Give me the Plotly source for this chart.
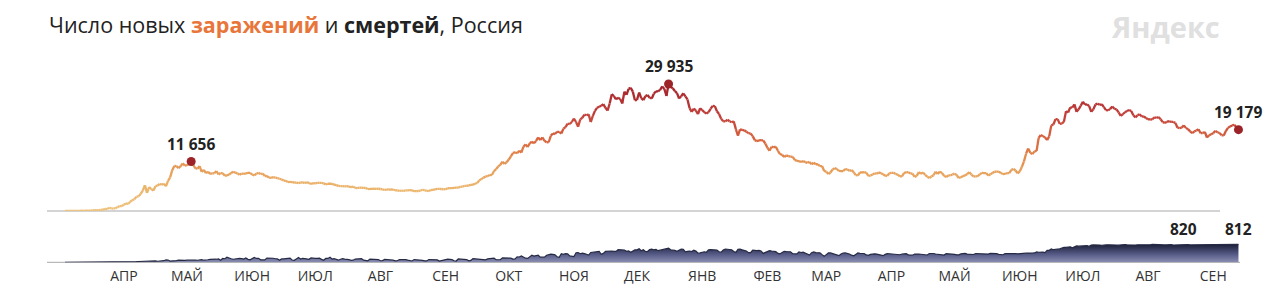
import pandas as pd
import plotly.graph_objects as go
from plotly.colors import sample_colorscale

# ---------------- DATA (daily, Russia) ----------------
# each block: (first date, daily values)
cases_blocks = [
    ("2020-03-12", [6, 11, 14, 4, 30, 21, 33, 52, 54, 53, 61, 71, 57, 163, 182, 196, 228, 270, 302, 501]),
    ("2020-04-01", [440, 771, 601, 582, 658, 954, 1154, 1175, 1459, 1786, 1667, 2186, 2558, 2774, 3388, 3448, 4070, 4785, 6060, 4268,
                    5642, 5236, 4774, 5849, 5966, 6361, 6198, 6411, 5841, 7099]),
    ("2020-05-01", [7933, 9623, 10633, 10581, 10102, 10559, 11231, 10699, 10817, 11012, 11656, 10899, 10028, 9974, 10598, 9200,
                    9709, 8926, 9263, 8764, 8849, 8894, 9434, 8599, 8946, 8915, 8338, 8371, 8572, 8952, 9268]),
    ("2020-06-01", [9035, 8863, 8536, 8831, 8726, 8855, 8984, 8985, 8595, 8404, 8779, 8987, 8706, 8835, 8246, 8248, 7843, 7790,
                    7972, 7889, 7728, 7600, 7425, 7176, 7113, 6800, 6852, 6791, 6719, 6693]),
    ("2020-07-01", [6556, 6760, 6718, 6632, 6736, 6611, 6368, 6562, 6509, 6635, 6611, 6615, 6537, 6248, 6422, 6428, 6406, 6234,
                    6109, 5940, 5842, 5862, 5811, 5871, 5765, 5635, 5723, 5475, 5395, 5509, 5482]),
    ("2020-08-01", [5462, 5427, 5159, 5204, 5204, 5241, 5212, 5241, 5189, 5118, 4945, 5102, 5057, 5065, 5061, 4892, 4839, 4748,
                    4790, 4767, 4838, 4870, 4921, 4852, 4696, 4676, 4711, 4829, 4980, 4897, 4729]),
    ("2020-09-01", [4729, 4952, 4995, 5110, 5195, 5205, 5185, 5099, 5172, 5363, 5405, 5406, 5449, 5509, 5529, 5670, 5762, 5905,
                    5944, 6065, 6148, 6215, 6431, 6595, 7212, 7523, 7867, 8135, 8232, 8481]),
    ("2020-10-01", [8481, 9412, 9859, 10499, 10888, 11615, 11115, 11493, 12126, 12846, 13634, 13868, 13592, 14231, 13754, 15150,
                    15700, 15099, 15982, 16319, 15971, 16521, 17340, 16710, 17347, 16550, 16202, 16202, 17717, 18283, 18140]),
    ("2020-11-01", [18665, 18648, 18257, 19404, 19768, 20582, 20498, 20977, 21798, 20977, 19851, 21608, 21983, 22702, 22572, 22778,
                    20977, 22410, 23610, 24318, 24581, 24822, 25173, 24326, 23675, 25345, 27543, 27100, 26338, 26683]),
    ("2020-12-01", [26402, 25345, 28145, 27403, 28782, 29039, 28142, 26097, 26190, 27927, 26585, 26137, 27080, 27328, 26689, 26509,
                    27656, 28214, 28209, 28552, 29350, 28776, 27100, 29935, 29258, 28948, 28284, 27787, 26513, 27039, 27747]),
    ("2021-01-01", [27029, 26301, 24246, 23351, 24150, 23652, 22851, 24217, 23771, 23309, 22934, 23315, 24092, 24763, 24715, 23510,
                    22857, 21734, 21152, 21127, 21513, 21152, 20921, 21127, 19290, 17741, 19238, 19138, 19032, 18670, 18359]),
    ("2021-02-01", [18241, 17648, 16714, 16474, 16643, 16688, 16627, 15916, 14928, 14207, 15166, 15010, 15150, 14185, 13433, 13233,
                    12742, 13092, 12953, 12828, 12742, 12048, 11823, 11749, 11534, 11749, 11534, 11359]),
    ("2021-03-01", [11571, 11024, 11385, 11024, 11022, 10565, 10595, 9445, 9270, 8711, 9079, 9803, 10103, 9908, 9437, 9393, 9393,
                    9889, 9803, 9445, 9632, 9167, 8457, 8369, 9073, 9128, 9088, 9073, 8277, 8351, 8569]),
    ("2021-04-01", [8885, 8792, 9109, 8885, 8646, 8328, 8294, 8910, 9007, 8997, 8702, 8589, 8173, 8162, 8995, 9112, 9166, 8814,
                    8835, 8053, 8271, 9150, 8780, 9056, 8535, 8114, 7771, 8116, 8425, 9270]),
    ("2021-05-01", [8697, 9284, 8951, 8329, 7975, 8419, 8387, 8618, 8792, 8489, 7770, 7974, 8217, 8380, 8702, 9159, 8599, 8128,
                    8144, 8217, 8632, 8981, 8941, 8951, 8373, 8632, 8947, 9252, 9270, 9289, 8951]),
    ("2021-06-01", [8715, 8735, 8951, 8947, 9694, 9908, 9557, 8885, 9323, 10407, 11699, 13510, 14723, 13721, 13397, 14057, 14185,
                    17262, 17906, 17611, 17378, 16715, 17594, 20182, 20393, 21665, 21650, 20538, 20616, 21042]),
    ("2021-07-01", [23543, 23218, 24439, 24353, 25142, 23378, 23962, 24818, 25766, 25082, 25140, 24702, 23378, 23962, 25116, 25293,
                    25018, 25152, 24471, 23770, 23704, 24072, 24634, 24105, 23947, 23239, 22420, 22804, 23270, 23564, 23807]),
    ("2021-08-01", [23564, 22589, 22064, 22589, 22804, 22277, 22277, 21932, 21624, 21571, 21571, 22097, 21932, 22144, 21624, 20958,
                    20765, 21058, 21155, 21000, 20992, 20765, 19630, 19509, 19630, 20183, 19594, 19286, 18780, 18325, 18780]),
    ("2021-09-01", [18985, 19286, 18341, 18380, 18645, 17325, 17837, 18065, 18341, 18891, 18554, 18380, 17837, 17813, 18841, 19594,
                    19905, 20174, 20329, 19706, 19179]),
]

deaths_blocks = [
    ("2020-03-12", [0, 0, 0, 0, 0, 0, 0, 1, 0, 0, 0, 0, 1, 2, 1, 1, 0, 4, 2, 2]),
    ("2020-04-01", [7, 2, 8, 9, 2, 11, 10, 13, 18, 13, 12, 24, 22, 18, 28, 36, 41, 42, 48, 51, 57, 44, 49, 60, 47, 47, 58, 72,
                    108, 101]),
    ("2020-05-01", [57, 57, 58, 76, 95, 86, 76, 88, 98, 104, 94, 107, 96, 93, 113, 119, 94, 91, 115, 135, 127, 150, 139, 153, 92,
                    174, 161, 232, 181, 162, 138]),
    ("2020-06-01", [162, 182, 178, 169, 144, 197, 134, 112, 171, 216, 174, 181, 113, 119, 109, 193, 194, 181, 183, 161, 153, 95,
                    154, 153, 176, 176, 188, 104, 92, 154]),
    ("2020-07-01", [216, 147, 176, 168, 135, 134, 198, 173, 174, 174, 188, 132, 95, 175, 175, 232, 146, 161, 128, 95, 138, 165,
                    147, 150, 124, 85, 95, 147, 161, 154, 161]),
    ("2020-08-01", [95, 70, 70, 147, 144, 129, 114, 124, 70, 77, 130, 129, 110, 114, 98, 68, 70, 117, 121, 123, 121, 95, 68, 60,
                    122, 119, 117, 112, 86, 65, 61]),
    ("2020-09-01", [123, 119, 117, 112, 110, 56, 73, 122, 129, 145, 132, 119, 70, 57, 150, 150, 124, 150, 124, 68, 87, 169, 160,
                    147, 148, 107, 104, 108, 154, 169]),
    ("2020-10-01", [169, 186, 117, 113, 116, 198, 201, 191, 202, 186, 148, 154, 244, 239, 286, 232, 184, 176, 229, 317, 283, 303,
                    320, 229, 219, 229, 320, 346, 366, 355, 334]),
    ("2020-11-01", [252, 228, 389, 355, 389, 378, 286, 286, 256, 432, 439, 387, 411, 395, 361, 323, 442, 456, 463, 467, 492, 361,
                    401, 491, 507, 524, 510, 496, 491, 569]),
    ("2020-12-01", [562, 589, 554, 496, 510, 456, 495, 561, 560, 613, 524, 573, 491, 485, 572, 591, 567, 585, 525, 547, 537, 558,
                    599, 635, 567, 562, 536, 500, 562, 599, 586]),
    ("2021-01-01", [470, 490, 508, 483, 547, 506, 412, 425, 463, 476, 453, 559, 570, 574, 575, 556, 473, 455, 553, 597, 588, 570,
                    568, 485, 447, 590, 595, 562, 534, 510, 434]),
    ("2021-02-01", [439, 553, 534, 523, 539, 511, 401, 439, 492, 528, 509, 497, 479, 400, 377, 443, 495, 483, 486, 477, 390, 370,
                    378, 464, 442, 459, 412, 386]),
    ("2021-03-01", [324, 435, 468, 435, 434, 427, 347, 274, 347, 422, 423, 395, 387, 338, 302, 374, 419, 421, 405, 376, 322, 292,
                    355, 420, 403, 390, 396, 331, 311, 357, 385]),
    ("2021-04-01", [382, 372, 357, 327, 299, 357, 393, 386, 376, 359, 330, 342, 341, 376, 383, 390, 339, 326, 322, 372, 385, 369,
                    363, 346, 325, 330, 396, 401, 398, 375]),
    ("2021-05-01", [367, 361, 339, 326, 391, 388, 378, 371, 359, 337, 334, 380, 398, 401, 371, 364, 328, 352, 397, 392, 391, 378,
                    358, 350, 370, 399, 401, 402, 390, 360, 343]),
    ("2021-06-01", [340, 387, 393, 392, 392, 386, 388, 384, 398, 408, 409, 413, 416, 399, 410, 422, 466, 453, 466, 461, 440, 536,
                    541, 599, 568, 601, 599, 611, 652, 669]),
    ("2021-07-01", [672, 679, 697, 654, 679, 737, 726, 737, 752, 752, 749, 725, 780, 786, 791, 796, 778, 769, 764, 784, 791, 796,
                    799, 792, 779, 772, 787, 794, 799, 790, 781]),
    ("2021-08-01", [771, 765, 780, 792, 790, 791, 787, 781, 769, 791, 808, 799, 790, 789, 784, 780, 786, 789, 798, 799, 780, 784,
                    785, 790, 793, 820, 815, 799, 786, 786, 795]),
    ("2021-09-01", [798, 797, 796, 795, 792, 786, 788, 796, 799, 797, 791, 784, 778, 788, 797, 799, 799, 788, 779, 788, 812]),
]

month_labels = ["АПР", "МАЙ", "ИЮН", "ИЮЛ", "АВГ", "СЕН", "ОКТ", "НОЯ", "ДЕК",
                "ЯНВ", "ФЕВ", "МАР", "АПР", "МАЙ", "ИЮН", "ИЮЛ", "АВГ", "СЕН"]
month_label_dates = pd.date_range("2020-04-01", periods=len(month_labels), freq="MS") + pd.Timedelta(days=8)

title_html = ('Число новых <b><span style="color:#e8763b">заражений</span></b> и '
              '<b>смертей</b>, Россия')
logo_text = "Яндекс"


def expand(blocks):
    xs, ys = [], []
    for start, vals in blocks:
        d = pd.date_range(start, periods=len(vals), freq="D")
        xs.extend(d)
        ys.extend(vals)
    return pd.Series(ys, index=pd.DatetimeIndex(xs))


cases = expand(cases_blocks)
deaths = expand(deaths_blocks)

# ---------------- LAYOUT GEOMETRY (pixels) ----------------
W, H = 1270, 305
PX_PER_DAY = 2.103
X_FIRST_PX = 65          # where first data day sits
TOP_BASE_PX, TOP_TOP_PX, TOP_PX_PER_UNIT = 211, 50, 127 / 29935
BOT_BASE_PX, BOT_TOP_PX, BOT_PX_PER_UNIT = 262.3, 225, 18 / 812

x0_date = cases.index[0] - pd.Timedelta(days=X_FIRST_PX / PX_PER_DAY)
x1_date = x0_date + pd.Timedelta(days=W / PX_PER_DAY)

fig = go.Figure()

# ---- cases line with value-based colour gradient ----
cscale = [[0.0, "#efc27c"], [0.2, "#ebb36a"], [0.4, "#e3904f"], [0.55, "#d9683f"],
          [0.75, "#c2403a"], [1.0, "#a1222a"]]
vmax = cases.max()
N_BINS = 30
bins = {i: ([], []) for i in range(N_BINS)}
cx = list(cases.index)
cy = list(cases.values)
for i in range(len(cy) - 1):
    t = (cy[i] + cy[i + 1]) / 2 / vmax
    b = min(int(t * N_BINS), N_BINS - 1)
    bins[b][0].extend([cx[i], cx[i + 1], None])
    bins[b][1].extend([cy[i], cy[i + 1], None])
for b, (xs, ys) in bins.items():
    if not xs:
        continue
    col = sample_colorscale(cscale, [(b + 0.5) / N_BINS])[0]
    fig.add_trace(go.Scatter(x=xs, y=ys, mode="lines", line=dict(color=col, width=2.3),
                             xaxis="x", yaxis="y", hoverinfo="skip", showlegend=False,
                             connectgaps=False))

# highlighted points on cases
first_wave = cases[: "2020-08-01"]
hl_dates = [first_wave.idxmax(), cases.idxmax(), cases.index[-1]]
hl_vals = [cases[d] for d in hl_dates]
fig.add_trace(go.Scatter(x=hl_dates, y=hl_vals, mode="markers",
                         marker=dict(color="#9c2428", size=9), xaxis="x", yaxis="y",
                         showlegend=False, hoverinfo="skip"))

# ---- deaths area with vertical gradient ----
fig.add_trace(go.Scatter(x=deaths.index, y=deaths.values, mode="lines", fill="tozeroy",
                         line=dict(color="#262a45", width=1.2),
                         fillgradient=dict(type="vertical",
                                           colorscale=[[0, "#8a8eb2"], [0.45, "#555a86"], [1, "#1c1f36"]]),
                         xaxis="x", yaxis="y2", showlegend=False, hoverinfo="skip"))

annotations = []
lab_font = dict(family="Open Sans", size=15.5, color="#222222")
for d, v in zip(hl_dates, hl_vals):
    annotations.append(dict(x=d, y=v, xref="x", yref="y", text="<b>%s</b>" % f"{v:,}".replace(",", " "),
                            showarrow=False, yanchor="bottom", yshift=5, font=lab_font))
d_hl = [deaths.idxmax(), deaths.index[-1]]
for d in d_hl:
    annotations.append(dict(x=d, y=deaths[d], xref="x", yref="y2", text="<b>%d</b>" % deaths[d],
                            showarrow=False, yanchor="bottom", yshift=2, font=lab_font))

annotations.append(dict(x=47 / W, y=(H - 25) / H, xref="paper", yref="paper", text=title_html,
                        showarrow=False, xanchor="left", yanchor="middle",
                        font=dict(family="Open Sans", size=21.5, color="#222222")))
annotations.append(dict(x=1222 / W, y=(H - 26) / H, xref="paper", yref="paper", text="<b>%s</b>" % logo_text,
                        showarrow=False, xanchor="right", yanchor="middle",
                        font=dict(family="Open Sans", size=29, color="#e0e0e0")))

shapes = [
    dict(type="line", xref="paper", yref="paper", x0=47 / W, x1=1220 / W,
         y0=(H - TOP_BASE_PX) / H, y1=(H - TOP_BASE_PX) / H, line=dict(color="#a8a8a8", width=1), layer="below"),
    dict(type="line", xref="paper", yref="paper", x0=47 / W, x1=1240 / W,
         y0=(H - BOT_BASE_PX) / H, y1=(H - BOT_BASE_PX) / H, line=dict(color="#a8a8a8", width=1), layer="below"),
]

fig.update_layout(
    width=W, height=H, margin=dict(l=0, r=0, t=0, b=0),
    paper_bgcolor="white", plot_bgcolor="white",
    font=dict(family="Open Sans", color="#333333"),
    xaxis=dict(type="date", domain=[0, 1], range=[x0_date, x1_date], anchor="y2",
               tickvals=list(month_label_dates), ticktext=month_labels,
               tickfont=dict(family="Open Sans", size=14, color="#333333"),
               showgrid=False, zeroline=False, showline=False, ticks="", ticklabelstandoff=4),
    yaxis=dict(domain=[(H - TOP_BASE_PX) / H, (H - TOP_TOP_PX) / H],
               range=[0, (TOP_BASE_PX - TOP_TOP_PX) / TOP_PX_PER_UNIT],
               visible=False, showgrid=False, zeroline=False),
    yaxis2=dict(domain=[(H - BOT_BASE_PX) / H, (H - BOT_TOP_PX) / H],
                range=[0, (BOT_BASE_PX - BOT_TOP_PX) / BOT_PX_PER_UNIT],
                visible=False, showgrid=False, zeroline=False),
    annotations=annotations, shapes=shapes,
)

fig.write_html("out.html")
